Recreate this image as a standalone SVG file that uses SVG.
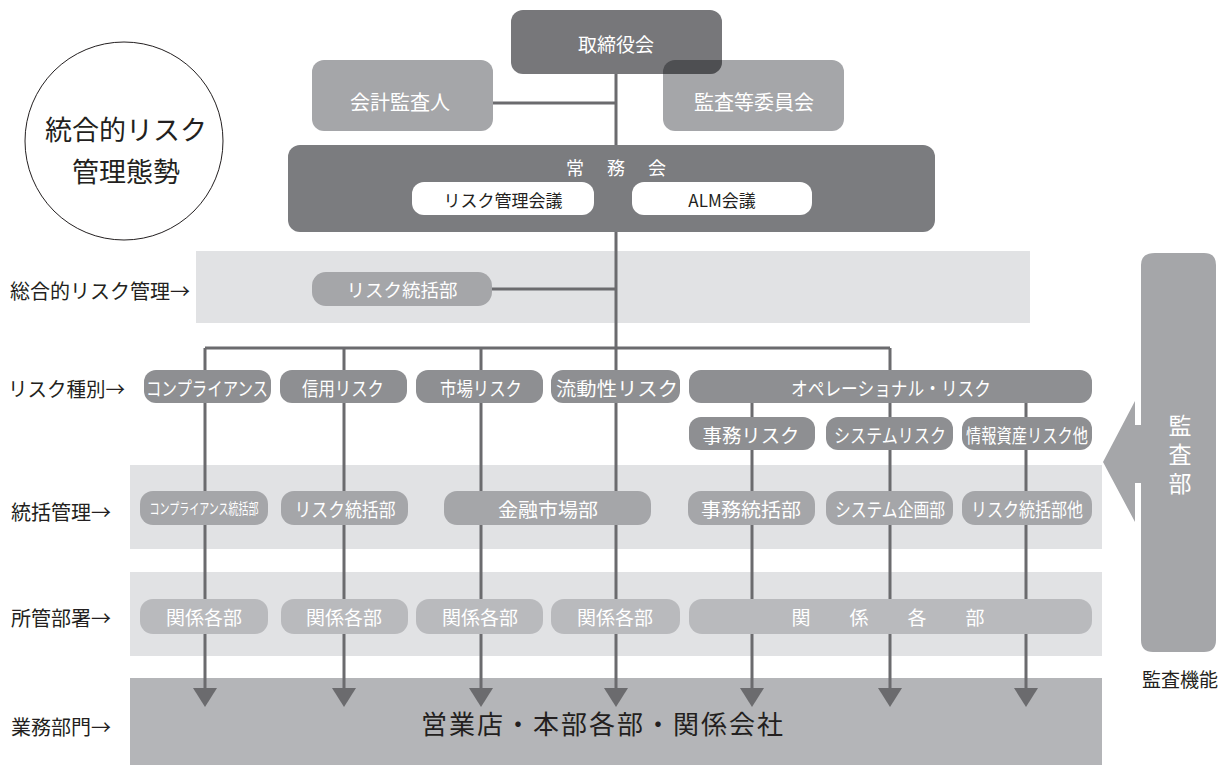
<svg xmlns="http://www.w3.org/2000/svg" width="1228" height="765" viewBox="0 0 1228 765">
<style>
text{font-family:"Noto Sans CJK JP","Noto Sans",sans-serif;}
.w{fill:#fff;text-anchor:middle;dominant-baseline:central;}
.b{fill:#231f20;text-anchor:middle;dominant-baseline:central;}
.p{font-size:19px;}
.lbl{fill:#231f20;font-size:20px;dominant-baseline:central;}
.band{fill:#e1e2e4;}
.ln{stroke:#6b6b6e;stroke-width:3;fill:none;}
.risk{fill:#8e8f92;}
.mid{fill:#a5a6a9;}
.lt{fill:#b9babd;}
.ah{fill:#6b6b6e;}
</style>
<defs>
<clipPath id="topclip"><rect x="511" y="10" width="211" height="64" rx="12"/></clipPath>
</defs>
<rect width="1228" height="765" fill="#fff"/>
<g id="bands">
<rect class="band" x="196" y="251" width="834" height="72"/>
<rect class="band" x="130" y="465" width="972" height="84"/>
<rect class="band" x="130" y="572" width="972" height="84"/>
<rect x="130" y="678" width="972" height="87" fill="#b4b5b8"/>
</g>
<g id="labels">
<text class="lbl" x="10" y="290">総合的リスク管理→</text>
<text class="lbl" x="8" y="388" textLength="117" lengthAdjust="spacingAndGlyphs">リスク種別→</text>
<text class="lbl" x="11" y="511">統括管理→</text>
<text class="lbl" x="11" y="617">所管部署→</text>
<text class="lbl" x="11" y="726">業務部門→</text>
</g>
<g id="circle">
<circle cx="124" cy="141" r="99" fill="#fff" stroke="#231f20" stroke-width="1"/>
<text class="b" x="126" y="128" font-size="27">統合的リスク</text>
<text class="b" x="126" y="170" font-size="27">管理態勢</text>
</g>
<g id="connectors">
<path class="ln" d="M616 74V690M493 103H616M492 289H616M205 348H890M205 348V690M344 348V690M481 348V690M890 348V690M752 403V690M1026 403V690"/>
<polygon class="ah" points="193,688 217,688 205,707"/>
<polygon class="ah" points="332,688 356,688 344,707"/>
<polygon class="ah" points="469,688 493,688 481,707"/>
<polygon class="ah" points="604,688 628,688 616,707"/>
<polygon class="ah" points="740,688 764,688 752,707"/>
<polygon class="ah" points="878,688 902,688 890,707"/>
<polygon class="ah" points="1014,688 1038,688 1026,707"/>
</g>
<g id="n-kaikei">
<rect x="312" y="60" width="181" height="71" rx="12" fill="#a5a6a9"/>
<text class="w" x="400" y="101" font-size="20">会計監査人</text>
</g>
<g id="n-kansa-iin">
<rect x="663" y="60" width="181" height="71" rx="12" fill="#a5a6a9"/>
<text class="w" x="754" y="101" font-size="20">監査等委員会</text>
</g>
<g id="n-torishimari">
<rect x="511" y="10" width="211" height="64" rx="12" fill="#77777a"/>
<rect x="663" y="60" width="181" height="71" rx="12" fill="#4e4f52" clip-path="url(#topclip)"/>
<text class="w" x="616" y="43" font-size="19">取締役会</text>
</g>
<g id="n-jomu">
<rect x="288" y="145" width="647" height="87" rx="12" fill="#7b7c7f"/>
<text class="w" x="575 616 657" y="167" font-size="18">常務会</text>
<rect x="412" y="182" width="182" height="33" rx="12" fill="#fff"/>
<text x="503" y="199" font-size="17" fill="#231f20" text-anchor="middle" dominant-baseline="central">リスク管理会議</text>
<rect x="632" y="182" width="180" height="33" rx="12" fill="#fff"/>
<text x="722" y="199" font-size="17" fill="#231f20" text-anchor="middle" dominant-baseline="central">ALM会議</text>
</g>
<g id="n-risk-tokatsu">
<rect class="mid" x="312" y="272" width="180" height="34" rx="14"/>
<text class="w" x="402" y="289" font-size="18.5">リスク統括部</text>
</g>
<g id="n-risk-types">
<rect class="risk" x="144" y="370" width="127" height="33" rx="12"/>
<text class="w p" x="207" y="387" textLength="122" lengthAdjust="spacingAndGlyphs">コンプライアンス</text>
<rect class="risk" x="280" y="370" width="127" height="33" rx="12"/>
<text class="w p" x="343" y="387" textLength="82" lengthAdjust="spacingAndGlyphs">信用リスク</text>
<rect class="risk" x="416" y="370" width="127" height="33" rx="12"/>
<text class="w p" x="481" y="387" textLength="82" lengthAdjust="spacingAndGlyphs">市場リスク</text>
<rect class="risk" x="551" y="370" width="129" height="33" rx="12"/>
<text class="w p" x="617" y="387" textLength="122" lengthAdjust="spacingAndGlyphs">流動性リスク</text>
<rect class="risk" x="689" y="370" width="403" height="33" rx="12"/>
<text class="w p" x="891" y="387" textLength="200" lengthAdjust="spacingAndGlyphs">オペレーショナル・リスク</text>
<rect class="risk" x="689" y="417" width="126" height="33" rx="12"/>
<text class="w p" x="751" y="434" textLength="97" lengthAdjust="spacingAndGlyphs">事務リスク</text>
<rect class="risk" x="826" y="417" width="127" height="33" rx="12"/>
<text class="w p" x="890" y="434" textLength="112" lengthAdjust="spacingAndGlyphs">システムリスク</text>
<rect class="risk" x="962" y="417" width="130" height="33" rx="12"/>
<text class="w p" x="1027" y="434" textLength="122" lengthAdjust="spacingAndGlyphs">情報資産リスク他</text>
</g>
<g id="n-tokatsu">
<rect class="mid" x="140" y="491" width="128" height="34" rx="13"/>
<text class="w" transform="translate(204 508) scale(0.667 1)" x="0" y="0" font-size="15">コンプライアンス統括部</text>
<rect class="mid" x="281" y="491" width="127" height="34" rx="13"/>
<text class="w p" x="345" y="508" textLength="101" lengthAdjust="spacingAndGlyphs">リスク統括部</text>
<rect class="mid" x="444" y="491" width="207" height="34" rx="13"/>
<text class="w p" x="548" y="508" textLength="100" lengthAdjust="spacingAndGlyphs">金融市場部</text>
<rect class="mid" x="688" y="491" width="127" height="34" rx="13"/>
<text class="w p" x="751" y="508" textLength="100" lengthAdjust="spacingAndGlyphs">事務統括部</text>
<rect class="mid" x="826" y="491" width="127" height="34" rx="13"/>
<text class="w p" x="890" y="508" textLength="110" lengthAdjust="spacingAndGlyphs">システム企画部</text>
<rect class="mid" x="962" y="491" width="130" height="34" rx="13"/>
<text class="w p" x="1027" y="508" textLength="112" lengthAdjust="spacingAndGlyphs">リスク統括部他</text>
</g>
<g id="n-kankei">
<rect class="lt" x="140" y="599" width="128" height="35" rx="13"/>
<text class="w p" x="204" y="616">関係各部</text>
<rect class="lt" x="281" y="599" width="127" height="35" rx="13"/>
<text class="w p" x="344" y="616">関係各部</text>
<rect class="lt" x="416" y="599" width="127" height="35" rx="13"/>
<text class="w p" x="480" y="616">関係各部</text>
<rect class="lt" x="551" y="599" width="129" height="35" rx="13"/>
<text class="w p" x="615" y="616">関係各部</text>
<rect class="lt" x="689" y="599" width="403" height="35" rx="13"/>
<text class="w p" x="801 859 917 975" y="616">関係各部</text>
</g>
<g id="n-gyomu">
<text x="603" y="722" font-size="26" fill="#231f20" text-anchor="middle" dominant-baseline="central" letter-spacing="2">営業店・本部各部・関係会社</text>
</g>
<g id="n-kansabu">
<path d="M1155 253H1204Q1216 253 1216 265V640Q1216 652 1204 652H1153Q1141 652 1141 640V483H1135V522L1103 462L1135 401V425H1141V265Q1141 253 1155 253Z" fill="#a5a6a9"/>
<text x="1180" y="457" font-size="23" fill="#fff" writing-mode="vertical-rl" text-anchor="middle" letter-spacing="6">監査部</text>
<text class="b" x="1180" y="678" font-size="19">監査機能</text>
</g>
</svg>
